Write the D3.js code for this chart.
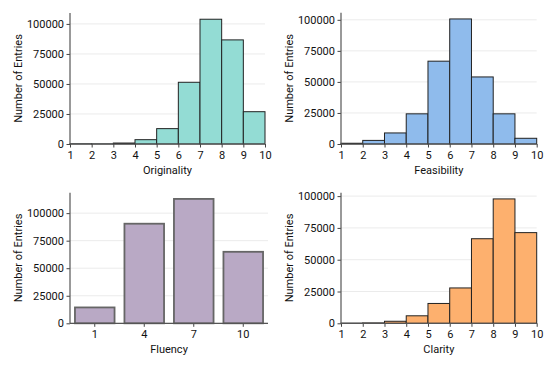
<!DOCTYPE html>
<html><head><meta charset="utf-8">
<script src="https://cdn.jsdelivr.net/npm/d3@7"></script>
<style>
body{margin:0;background:#fff;}
text{font-family:Roboto, "DejaVu Sans", sans-serif;}
</style></head>
<body><svg id="c" width="555" height="370"></svg>
<script>
const binEdges = [1,2,3,4,5,6,7,8,9,10];
const originality = [150, 100, 800, 3600, 12800, 51400, 103900, 86700, 26900];
const feasibility = [600, 2900, 8900, 24300, 66700, 100700, 54000, 24300, 4600];
const fluencyCats = ["1","4","7","10"];
const fluency = [14400, 90400, 112900, 64900];
const clarity = [100, 300, 1600, 5900, 15600, 27800, 66500, 97800, 71300];
const yTicks = [0, 25000, 50000, 75000, 100000];

const svg = d3.select("#c");
const FS = 11;

function frame(g, x, y, w, h){
  g.append("g").selectAll("line").data(yTicks).join("line")
    .attr("x1",0).attr("x2",w).attr("y1",d=>y(d)).attr("y2",d=>y(d))
    .attr("stroke","#ebebeb").attr("stroke-width",1);
}
function axes(g, x, y, w, h, xlabel, xAxisGen){
  const ya = g.append("g").call(d3.axisLeft(y).tickValues(yTicks).tickSize(3.5).tickPadding(2.5).tickFormat(d3.format("d")));
  ya.select(".domain").remove();
  const xa = g.append("g").attr("transform",`translate(0,${h})`).call(xAxisGen.tickSize(3.5).tickPadding(3.5));
  xa.select(".domain").remove();
  [ya,xa].forEach(a=>{
    a.selectAll("line").attr("stroke","#444");
    a.selectAll("text").attr("fill","#111").style("font-size",FS+"px");
  });
  g.append("line").attr("x1",0).attr("x2",0).attr("y1",0).attr("y2",h).attr("stroke","#555").attr("stroke-width",1.2);
  g.append("line").attr("x1",0).attr("x2",w).attr("y1",h).attr("y2",h).attr("stroke","#555").attr("stroke-width",1.2);
  g.append("text").attr("x",w/2).attr("y",h+30).attr("text-anchor","middle").style("font-size",FS+"px").attr("fill","#111").text(xlabel);
  g.append("text").attr("transform",`translate(-48,${h/2}) rotate(-90)`).attr("text-anchor","middle").style("font-size",FS+"px").attr("fill","#111").text("Number of Entries");
}

function hist(left, top, right, bottom, values, fill, xlabel){
  const w = right-left, h = bottom-top;
  const g = svg.append("g").attr("transform",`translate(${left},${top})`);
  const x = d3.scaleLinear().domain([1,10]).range([0,w]);
  const y = d3.scaleLinear().domain([0, d3.max(values)*1.05]).range([h,0]);
  frame(g,x,y,w,h);
  const bins = values.map((v,i)=>({x0:binEdges[i], x1:binEdges[i+1], v}));
  g.append("g").selectAll("rect").data(bins).join("rect")
    .attr("x",d=>x(d.x0)).attr("width",d=>x(d.x1)-x(d.x0))
    .attr("y",d=>y(d.v)).attr("height",d=>h-y(d.v))
    .attr("fill",fill).attr("stroke","#222").attr("stroke-width",1);
  axes(g,x,y,w,h,xlabel,d3.axisBottom(x).tickValues(binEdges).tickFormat(d3.format("d")));
}

function bars(left, top, right, bottom, cats, values, fill, xlabel){
  const w = right-left, h = bottom-top;
  const g = svg.append("g").attr("transform",`translate(${left},${top})`);
  const x = d3.scaleBand().domain(cats).range([0,w]).paddingInner(0.2).paddingOuter(0.1);
  const y = d3.scaleLinear().domain([0, d3.max(values)*1.05]).range([h,0]);
  frame(g,x,y,w,h);
  g.append("g").selectAll("rect").data(values).join("rect")
    .attr("x",(d,i)=>x(cats[i])).attr("width",x.bandwidth())
    .attr("y",d=>y(d)).attr("height",d=>h-y(d))
    .attr("fill",fill).attr("stroke","#666").attr("stroke-width",1.8);
  axes(g,x,y,w,h,xlabel,d3.axisBottom(x));
}

hist(70, 13, 265, 144, originality, "#93dcd4", "Originality");
hist(341, 12.7, 536.7, 144, feasibility, "#8fbbec", "Feasibility");
bars(70, 192.7, 268, 323.3, fluencyCats, fluency, "#b9a9c5", "Fluency");
hist(341, 192.7, 536.7, 323.3, clarity, "#fdb06e", "Clarity");
</script></body></html>
